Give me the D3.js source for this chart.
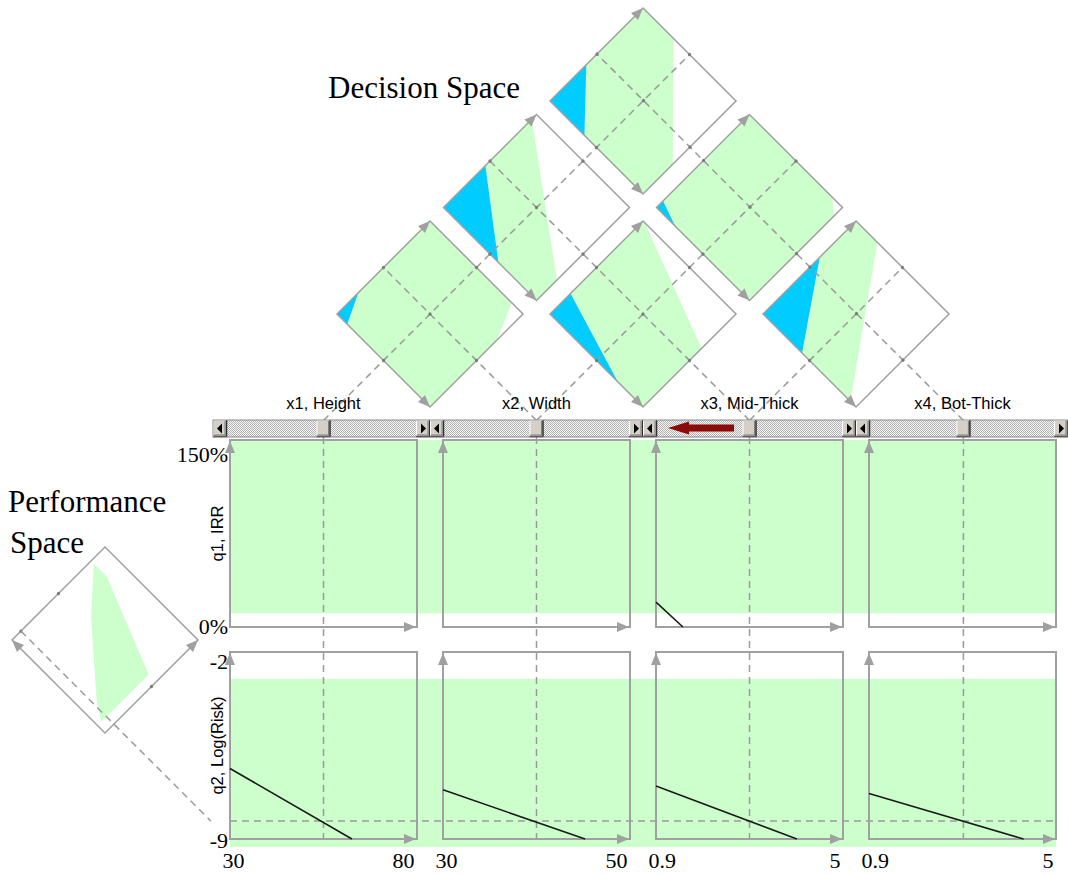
<!DOCTYPE html>
<html><head><meta charset="utf-8">
<script src="https://cdn.jsdelivr.net/npm/d3@7/dist/d3.min.js"></script>
<style>html,body{margin:0;padding:0;background:#fff}svg{display:block}</style>
</head><body>
<svg id="chart" width="1068" height="876"></svg>
<script>
// ---------------- data ----------------
const variables = ["x1, Height", "x2, Width", "x3, Mid-Thick", "x4, Bot-Thick"];
const varDomains = [[30, 80], [30, 50], [0.9, 5], [0.9, 5]];
const varTickLabels = [["30", "80"], ["30", "50"], ["0.9", "5"], ["0.9", "5"]];
const sliderValues = [55, 40, 2.95, 2.97];

const objectives = ["q1, IRR", "q2, Log(Risk)"];
const objDomains = [[0, 150], [-9, -2]];
const objTickLabels = [["0%", "150%"], ["-9", "-2"]];
const feasibleBands = [[11, 150], [-9.3, -3]];
const q2Current = -8.33;

const responseLines = [
  { obj: 0, v: 2, pts: [[0.9, 20], [1.49, 0]] },
  { obj: 1, v: 0, pts: [[30, -6.36], [62.6, -9]] },
  { obj: 1, v: 1, pts: [[30, -7.16], [45.2, -9]] },
  { obj: 1, v: 2, pts: [[0.9, -7.02], [3.99, -9]] },
  { obj: 1, v: 3, pts: [[0.9, -7.30], [4.29, -9]] }
];

// decision-space pair plots (u = second variable fraction, v = first variable fraction)
const pairs = [[0, 1], [1, 2], [2, 3], [0, 2], [1, 3], [0, 3]];
const blueRegions = [
  [[0, 0], [0.23, 0], [0, 0.11]],
  [[0, 0], [0.22, 0], [0, 0.73]],
  [[0, 0], [0.61, 0], [0, 0.42]],
  [[0, 0], [0.45, 0], [0, 0.59]],
  [[0, 0], [0.07, 0], [0, 0.20]],
  [[0, 0], [0.39, 0], [0, 0.37]]
];
const whiteRegions = [
  [[1, 0.88], [1, 1], [0.72, 1]],
  [[1, 0.02], [1, 1], [0.63, 1]],
  [[1, 0.23], [1, 1], [0, 1], [0, 0.94]],
  [[0.95, 0], [1, 0], [1, 1], [0.22, 1]],
  [[1, 0.89], [1, 1], [0.91, 1]],
  [[1, 0.33], [1, 1], [0.32, 1]]
];
// performance-space region (a = q1 fraction, b = q2 fraction)
const performanceRegion = [[0.97, 0.85], [0.83, 0.85], [0.08, 0.55], [0.08, 0.04], [0.22, 0.13], [0.70, 0.55]];

// ---------------- layout ----------------
const svg = d3.select("#chart");
const GREEN = "#ccffcc", BLUE = "#00ccff", GRAY = "#a0a0a0", DASH = "#9a9a9a";
const SERIF = "'Liberation Serif','Times New Roman',serif";
const SANS = "'Liberation Sans',Arial,sans-serif";

const colLeft = [230, 443, 656, 869], colW = 187;
const rowTop = [440, 652], rowH = 187;
const xScales = varDomains.map((d, i) => d3.scaleLinear().domain(d).range([colLeft[i], colLeft[i] + colW]));
const yScales = objDomains.map((d, k) => d3.scaleLinear().domain(d).range([rowTop[k] + rowH, rowTop[k]]));
const xLeftAll = colLeft[0], xRightAll = colLeft[3] + colW;

function arrowHead(g, x, y, angle, color = GRAY, len = 12, hw = 5) {
  g.append("path").attr("d", `M0,0 L${-len},${-hw} L${-len},${hw} Z`)
    .attr("transform", `translate(${x},${y}) rotate(${angle})`).attr("fill", color);
}

const defs = svg.append("defs");
const pat = defs.append("pattern").attr("id", "stip").attr("width", 2).attr("height", 2).attr("patternUnits", "userSpaceOnUse");
pat.append("rect").attr("width", 2).attr("height", 2).attr("fill", "#f4f4f4");
pat.append("rect").attr("width", 1).attr("height", 1).attr("fill", "#b4b4b4");
pat.append("rect").attr("x", 1).attr("y", 1).attr("width", 1).attr("height", 1).attr("fill", "#b4b4b4");

// feasible bands
feasibleBands.forEach((b, k) => {
  svg.append("rect").attr("x", xLeftAll).attr("width", xRightAll - xLeftAll)
    .attr("y", yScales[k](b[1])).attr("height", yScales[k](b[0]) - yScales[k](b[1]))
    .attr("fill", GREEN);
});

// thumbs positions
const thumbX = sliderValues.map((v, i) => xScales[i](v));
const barY = 420, barH = 17;

// vertical dashed lines
thumbX.forEach(t => {
  svg.append("line").attr("x1", t).attr("x2", t).attr("y1", barY + barH).attr("y2", yScales[1].range()[0])
    .attr("stroke", DASH).attr("stroke-width", 1.5).attr("stroke-dasharray", "7,5");
});

// horizontal dashed line for q2
const yq = yScales[1](q2Current);
svg.append("line").attr("x1", xLeftAll).attr("x2", xRightAll).attr("y1", yq).attr("y2", yq)
  .attr("stroke", DASH).attr("stroke-width", 1.5).attr("stroke-dasharray", "7,5");

// panel frames
const frames = svg.append("g");
objectives.forEach((o, k) => variables.forEach((v, i) => {
  const [x0, x1] = xScales[i].range();
  const [y1, y0] = yScales[k].range();
  frames.append("rect").attr("x", x0).attr("y", y0).attr("width", x1 - x0).attr("height", y1 - y0)
    .attr("fill", "none").attr("stroke", GRAY).attr("stroke-width", 2);
  arrowHead(frames, x0, y0 + 1, -90);
  arrowHead(frames, x1 - 1, y1, 0);
}));

// response lines
responseLines.forEach(r => {
  const ln = d3.line().x(d => xScales[r.v](d[0])).y(d => yScales[r.obj](d[1]));
  svg.append("path").attr("d", ln(r.pts)).attr("fill", "none").attr("stroke", "#1a1a1a").attr("stroke-width", 1.6);
});

// axes labels: left
const dyTop = [21, 16], dyBot = [6, 8];
objectives.forEach((o, k) => {
  const ax = svg.append("g").attr("transform", `translate(${colLeft[0] - 2},0)`)
    .call(d3.axisLeft(yScales[k]).tickValues(objDomains[k]).tickSize(0).tickPadding(0)
      .tickFormat((d, j) => objTickLabels[k][j]));
  ax.select(".domain").remove();
  ax.selectAll("text").attr("font-family", SERIF).attr("font-size", 22).attr("fill", "#000")
    .attr("dy", (d, j) => j === 0 ? dyBot[k] : dyTop[k]);
  const cy = (rowTop[k] + rowTop[k] + rowH) / 2;
  svg.append("text").attr("transform", `translate(223,${cy}) rotate(-90)`).attr("text-anchor", "middle")
    .attr("font-family", SANS).attr("font-size", 16.5).text(o);
});
// axes labels: bottom
variables.forEach((v, i) => {
  const ax = svg.append("g").attr("transform", `translate(0,${rowTop[1] + rowH})`)
    .call(d3.axisBottom(xScales[i]).tickValues(varDomains[i]).tickSize(0).tickPadding(13)
      .tickFormat((d, j) => varTickLabels[i][j]));
  ax.select(".domain").remove();
  ax.selectAll("text").attr("font-family", SERIF).attr("font-size", 22).attr("fill", "#000")
    .attr("text-anchor", (d, j) => j === 0 ? "start" : "end")
    .attr("dx", (d, j) => j === 0 ? -8 : -3);
});

// ---------------- decision-space diamonds ----------------
const cc = colLeft.map(l => l + colW / 2);
const topY = barY + 0.5, hd = 93, side = hd * Math.SQRT2;
const loc = d3.scaleLinear().domain([0, 1]).range([0, side]);
const polyLine = d3.line().x(d => loc(d[0])).y(d => loc(d[1]));
const frac = sliderValues.map((v, i) => (v - varDomains[i][0]) / (varDomains[i][1] - varDomains[i][0]));
const centers = pairs.map(([i, j]) => ({ cx: (cc[i] + cc[j]) / 2, cy: topY - (cc[j] - cc[i]) / 2 }));

pairs.forEach(([i, j], p) => {
  const { cx, cy } = centers[p];
  const g = svg.append("g").attr("transform", `translate(${cx - hd},${cy}) rotate(-45)`);
  g.append("rect").attr("width", side).attr("height", side).attr("fill", GREEN);
  g.append("path").attr("d", polyLine(blueRegions[p]) + "Z").attr("fill", BLUE);
  g.append("path").attr("d", polyLine(whiteRegions[p]) + "Z").attr("fill", "#fff");
  g.append("rect").attr("width", side).attr("height", side).attr("fill", "none").attr("stroke", GRAY).attr("stroke-width", 1.5);
  arrowHead(g, side, 0, 0);
  arrowHead(g, 0, side, 90);
});

// dashed lines from thumbs
const dl = svg.append("g").attr("stroke", DASH).attr("stroke-width", 1.5).attr("stroke-dasharray", "7,5").attr("fill", "none");
thumbX.forEach((t, i) => {
  if (i < 3) {
    const p = pairs.findIndex(q => q[0] === i && q[1] === 3);
    const { cx, cy } = centers[p];
    const s = (cx - cy + hd - t + topY) / 2;
    dl.append("line").attr("x1", t).attr("y1", topY).attr("x2", t + s).attr("y2", topY - s);
  }
  if (i > 0) {
    const p = pairs.findIndex(q => q[0] === 0 && q[1] === i);
    const { cx, cy } = centers[p];
    const s = (t + topY - cx - cy + hd) / 2;
    dl.append("line").attr("x1", t).attr("y1", topY).attr("x2", t - s).attr("y2", topY - s);
  }
});
// dots on diamonds
pairs.forEach(([i, j], p) => {
  const { cx, cy } = centers[p];
  const g = svg.append("g").attr("transform", `translate(${cx - hd},${cy}) rotate(-45)`);
  const u = frac[j], v = frac[i];
  [[u, 0], [u, 1], [0, v], [1, v], [u, v]].forEach(d => {
    g.append("circle").attr("cx", loc(d[0])).attr("cy", loc(d[1])).attr("r", 1.6).attr("fill", "#7a7a7a");
  });
});

// ---------------- performance diamond ----------------
const pCx = 105, pCy = 640;
const pg = svg.append("g").attr("transform", `translate(${pCx},${pCy + hd}) rotate(-135)`);
pg.append("path").attr("d", polyLine(performanceRegion) + "Z").attr("fill", GREEN);
pg.append("rect").attr("width", side).attr("height", side).attr("fill", "none").attr("stroke", GRAY).attr("stroke-width", 1.5);
arrowHead(pg, side, 0, 0);
arrowHead(pg, 0, side, 90);
const bq = (q2Current - objDomains[1][0]) / (objDomains[1][1] - objDomains[1][0]);
[[1, 0.5], [0, 0.5], [1, bq]].forEach(d => {
  pg.append("circle").attr("cx", loc(d[0])).attr("cy", loc(d[1])).attr("r", 1.6).attr("fill", "#7a7a7a");
});
{
  const sx = pCx - hd + bq * hd, sy = pCy - bq * hd;
  const s = yq - sy;
  svg.append("line").attr("x1", sx).attr("y1", sy).attr("x2", sx + s).attr("y2", yq)
    .attr("stroke", DASH).attr("stroke-width", 1.5).attr("stroke-dasharray", "7,5");
}

// ---------------- sliders ----------------
const segA = colLeft.map((l, i) => i === 0 ? l - 17 : (colLeft[i - 1] + colW + l) / 2);
const segB = colLeft.map((l, i) => i === 3 ? 1068 : (l + colW + colLeft[i + 1]) / 2);
const btn = 14;
const sl = svg.append("g");
function bevel(g, x, y, w, h) {
  g.append("rect").attr("x", x).attr("y", y).attr("width", w).attr("height", h).attr("fill", "#d4d0c8");
  g.append("path").attr("d", `M${x + 0.5},${y + h - 1} V${y + 0.5} H${x + w - 1}`).attr("stroke", "#fff").attr("fill", "none");
  g.append("path").attr("d", `M${x},${y + h - 0.5} H${x + w - 0.5} V${y}`).attr("stroke", "#303030").attr("stroke-width", 1.5).attr("fill", "none");
  g.append("path").attr("d", `M${x + 1},${y + h - 2} H${x + w - 2} V${y + 1}`).attr("stroke", "#808080").attr("fill", "none");
}
variables.forEach((v, i) => {
  const a = segA[i], b = segB[i];
  sl.append("rect").attr("x", a).attr("y", barY).attr("width", b - a).attr("height", barH).attr("fill", "url(#stip)");
  bevel(sl, a, barY, btn, barH);
  bevel(sl, b - btn, barY, btn, barH);
  const my = barY + barH / 2;
  sl.append("path").attr("d", `M${a + 4},${my} L${a + 9},${my - 5} L${a + 9},${my + 5} Z`).attr("fill", "#000");
  sl.append("path").attr("d", `M${b - 4},${my} L${b - 9},${my - 5} L${b - 9},${my + 5} Z`).attr("fill", "#000");
  bevel(sl, thumbX[i] - 7, barY, 14, barH);
});
sl.append("rect").attr("x", segA[0]).attr("y", barY).attr("width", segB[3] - segA[0]).attr("height", barH)
  .attr("fill", "none").attr("stroke", "#8a8a8a").attr("stroke-width", 1);

// red arrow
svg.append("path").attr("d", "M668,428 L689,421.5 L689,424.5 L734,424.5 L734,431.5 L689,431.5 L689,434.5 Z")
  .attr("fill", "#8b0a0a");

// variable labels
variables.forEach((v, i) => {
  svg.append("text").attr("x", cc[i]).attr("y", 409).attr("text-anchor", "middle")
    .attr("font-family", SANS).attr("font-size", 16.5).text(v);
});

// titles
svg.append("text").attr("x", 328).attr("y", 98).attr("font-family", SERIF).attr("font-size", 31).text("Decision Space");
svg.append("text").attr("x", 8).attr("y", 512).attr("font-family", SERIF).attr("font-size", 31).text("Performance");
svg.append("text").attr("x", 10).attr("y", 553).attr("font-family", SERIF).attr("font-size", 31).text("Space");
</script>
</body></html>
